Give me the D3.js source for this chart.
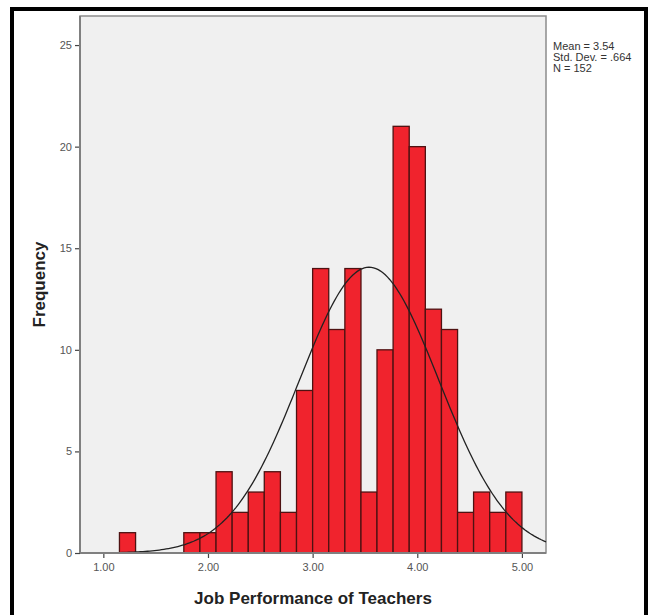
<!DOCTYPE html>
<html>
<head>
<meta charset="utf-8">
<script src="https://cdn.jsdelivr.net/npm/d3@7"></script>
<style>
  body { margin: 0; background: #fff; }
  svg text { font-family: "Liberation Sans", Arial, sans-serif; }
</style>
</head>
<body>
<div id="chart"></div>
<script>
// bin lower edges (width 2/13) and the frequency in each bin
var binEdges = [1.000, 1.154, 1.308, 1.462, 1.615, 1.769, 1.923, 2.077, 2.231, 2.385, 2.538, 2.692, 2.846,
                3.000, 3.154, 3.308, 3.462, 3.615, 3.769, 3.923, 4.077, 4.231, 4.385, 4.538, 4.692, 4.846, 5.000];
var binCounts = [0, 1, 0, 0, 0, 1, 1, 4, 2, 3, 4, 2, 8,
                 14, 11, 14, 3, 10, 21, 20, 12, 11, 2, 3, 2, 3];
var xTicks = [1, 2, 3, 4, 5];
var yTicks = [0, 5, 10, 15, 20, 25];
var statLabels = ["Mean = 3.54", "Std. Dev. = .664", "N = 152"];
var stats = {mean: 3.54, sd: 0.664, n: 152};

var W = 649, H = 615;
var plot = {l: 80, r: 546, t: 16, b: 553};

var svg = d3.select("#chart").append("svg")
    .attr("width", W).attr("height", H);

// outer black frame
svg.append("rect")
    .attr("x", 12).attr("y", 9).attr("width", 634).attr("height", 700)
    .attr("fill", "#fff").attr("stroke", "#000").attr("stroke-width", 4);

var x = d3.scaleLinear().domain([0.777, 5.23]).range([plot.l, plot.r]);
var y = d3.scaleLinear().domain([0, 26.43]).range([plot.b, plot.t]);

// plot background
svg.append("rect")
    .attr("x", plot.l).attr("y", plot.t)
    .attr("width", plot.r - plot.l).attr("height", plot.b - plot.t)
    .attr("fill", "#f0f0f0").attr("stroke", "#8c8c8c").attr("stroke-width", 1.5);

// bars
var bins = binCounts.map(function(c, i){ return {x0: binEdges[i], x1: binEdges[i + 1], n: c}; })
    .filter(function(d){ return d.n > 0; });

svg.append("g").selectAll("rect").data(bins).enter().append("rect")
    .attr("x", function(d){ return x(d.x0); })
    .attr("y", function(d){ return y(d.n); })
    .attr("width", function(d){ return x(d.x1) - x(d.x0); })
    .attr("height", function(d){ return y(0) - y(d.n); })
    .attr("fill", "#f0232d")
    .attr("stroke", "#4e1212")
    .attr("stroke-width", 1.3);

// fitted normal curve
var bw = binEdges[1] - binEdges[0];
var curveX = d3.range(0, 201).map(function(i){ return x.domain()[0] + (x.domain()[1] - x.domain()[0]) * i / 200; });
var line = d3.line()
    .x(function(v){ return x(v); })
    .y(function(v){
        var z = (v - stats.mean) / stats.sd;
        return y(stats.n * bw / (stats.sd * Math.sqrt(2 * Math.PI)) * Math.exp(-0.5 * z * z));
    });
svg.append("path").datum(curveX)
    .attr("d", line)
    .attr("fill", "none").attr("stroke", "#222").attr("stroke-width", 1.3);

// axes
var xAxis = svg.append("g")
    .attr("transform", "translate(0," + plot.b + ")")
    .call(d3.axisBottom(x).tickValues(xTicks).tickFormat(d3.format(".2f")).tickSize(5).tickPadding(5));
var yAxis = svg.append("g")
    .attr("transform", "translate(" + plot.l + ",0)")
    .call(d3.axisLeft(y).tickValues(yTicks).tickSize(5).tickPadding(3));

[xAxis, yAxis].forEach(function(a){
    a.select(".domain").remove();
    a.selectAll("line").attr("stroke", "#444").attr("stroke-width", 1.2);
    a.selectAll("text").style("font-size", "11px").attr("fill", "#555");
});

// axis lines (left and bottom)
svg.append("line").attr("x1", plot.l).attr("x2", plot.l).attr("y1", plot.t).attr("y2", plot.b)
    .attr("stroke", "#808080").attr("stroke-width", 2);
svg.append("line").attr("x1", plot.l).attr("x2", plot.r).attr("y1", plot.b).attr("y2", plot.b)
    .attr("stroke", "#808080").attr("stroke-width", 2);

// axis titles
svg.append("text")
    .attr("x", (plot.l + plot.r) / 2).attr("y", 604)
    .attr("text-anchor", "middle")
    .style("font-size", "17px").style("font-weight", "bold").attr("fill", "#222")
    .text("Job Performance of Teachers");

svg.append("text")
    .attr("transform", "translate(45," + ((plot.t + plot.b) / 2) + ") rotate(-90)")
    .attr("text-anchor", "middle")
    .style("font-size", "17px").style("font-weight", "bold").attr("fill", "#222")
    .text("Frequency");

// stats box text
svg.append("g").selectAll("text").data(statLabels).enter().append("text")
    .attr("x", 553)
    .attr("y", function(d, i){ return 50 + i * 11; })
    .style("font-size", "11px").attr("fill", "#333")
    .text(function(d){ return d; });
</script>
</body>
</html>
